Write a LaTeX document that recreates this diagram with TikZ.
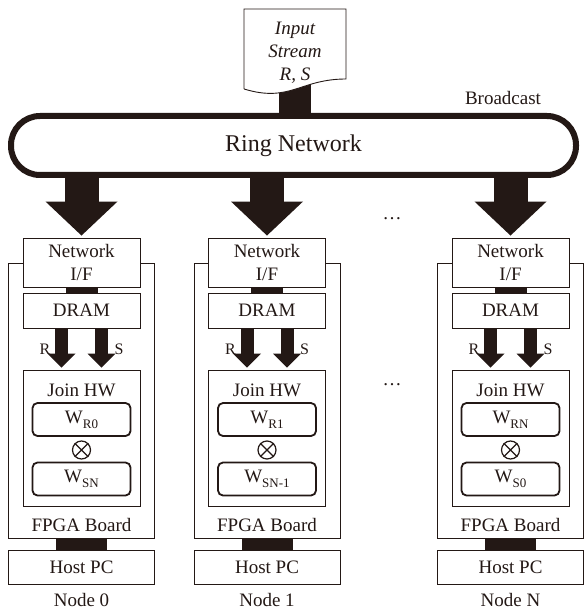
\documentclass[tikz,border=0pt]{standalone}
\usepackage{fontspec}
\setmainfont{Liberation Serif}
\usetikzlibrary{arrows.meta}

\definecolor{ink}{RGB}{35,24,21}
\newcommand{\wsub}[1]{W\raisebox{-0.55ex}{\fontsize{13}{13}\selectfont #1}}

\tikzset{
	box/.style={draw=ink, line width=0.9pt, fill=white, minimum width=117pt, inner sep=0pt,
		text=ink, align=center, font=\fontsize{19}{23}\selectfont},
	frame/.style={draw=ink, line width=0.9pt, fill=white, minimum width=146pt, minimum height=275pt, inner sep=0pt},
	wbox/.style={draw=ink, line width=1.8pt, rounded corners=5pt, fill=white, minimum width=98pt,
		minimum height=33pt, inner sep=0pt, text=ink, font=\fontsize{19}{19}\selectfont},
	ringbox/.style={draw=ink, line width=6pt, fill=white, rounded corners=29pt, minimum width=565pt,
		minimum height=59pt, text=ink, font=\fontsize{24}{24}\selectfont},
	otimes/.style={draw=ink, line width=1.2pt, circle, minimum size=18pt, inner sep=0pt},
	bus/.style={draw=ink, line width=#1},
	bigarrow/.style={draw=ink, line width=34pt, -{Triangle[width=72pt,length=34pt,line width=0pt]}},
	smallarrow/.style={draw=ink, line width=13pt, -{Triangle[width=28pt,length=14pt,line width=0pt]}},
	lbl/.style={text=ink, inner sep=0pt, font=\fontsize{19}{23}\selectfont},
}

\begin{document}
\begin{tikzpicture}[x=1pt, y=-1pt]
	% Fix the size of the picture
	\useasboundingbox (0,0) rectangle (583,609);
	
	% Ring network in the middle of the top part
	\node[ringbox] (ring) at (293.5,145.5) {Ring Network};
	
	% Connector from the input stream down to the ring
	\coordinate (docbot) at (295,82);
	\draw[bus=32pt] (docbot) -- (ring.north -| docbot);
	
	% Input stream document with a wavy bottom
	\draw[draw=ink, line width=0.9pt, fill=white] (244,89) -- (244,9) -- (346,9) -- (346,79)
		.. controls (300,79) and (290,103) .. (244,89);
	\node[lbl, align=center, font=\fontsize{19}{23}\selectfont\itshape] (doc) at (295,53) {Input\\Stream\\R, S};
	
	% Text
	\node[lbl] (bcast) at (503,98) {Broadcast};
	\node[lbl] (dotsA) at (392,219) {\dots};
	\node[lbl] (dotsB) at (392,385) {\dots};
	
	% One column for each node
	\foreach \cx/\i/\wr/\ws/\nm in {81.5/0/R0/SN/0, 267/1/R1/SN-1/1, 510.5/2/RN/S0/N} {
		\begin{scope}[shift={(\cx,0)}]
			% FPGA board frame
			\node[frame] (fpga\i) at (0,400.5) {};
			\node[lbl] (fpgatxt\i) at (0,525) {FPGA Board};
			
			% Network I/F and DRAM
			\node[box, minimum height=49pt] (nif\i) at (0,262.5) {Network\\I/F};
			\node[box, minimum height=35pt] (dram\i) at (0,310.5) {DRAM};
			\draw[bus=32pt] (nif\i) -- (dram\i);
			\draw[bigarrow] (ring.south -| nif\i.north) -- ([yshift=2pt]nif\i.north);
			
			% Join hardware with the two windows
			\node[box, minimum height=136pt] (join\i) at (0,438) {};
			\node[lbl] (jointxt\i) at (0,390) {Join HW};
			\node[wbox] (wr\i) at (0,419.5) {\wsub{\wr}};
			\node[wbox] (ws\i) at (0,479) {\wsub{\ws}};
			\node[otimes] (ot\i) at (0,450) {};
			\draw[draw=ink, line width=1.2pt] (ot\i.north west) -- (ot\i.south east)
				(ot\i.north east) -- (ot\i.south west);
			
			% R and S streams from the DRAM
			\draw[smallarrow] ([xshift=-20pt]dram\i.south) -- ([xshift=-20pt, yshift=2pt]join\i.north);
			\draw[smallarrow] ([xshift=20pt]dram\i.south) -- ([xshift=20pt, yshift=2pt]join\i.north);
			\node[lbl, font=\fontsize{16}{16}\selectfont] (rlbl\i) at (-36.5,349) {R};
			\node[lbl, font=\fontsize{16}{16}\selectfont] (slbl\i) at (37.5,349) {S};
			
			% Host PC below the board
			\node[box, minimum width=146pt, minimum height=34pt] (host\i) at (0,567) {Host PC};
			\draw[bus=51pt] (fpga\i) -- (host\i);
			\node[lbl, anchor=base] (nodelbl\i) at (0,606) {Node \nm};
		\end{scope}
	}
\end{tikzpicture}
\end{document}
